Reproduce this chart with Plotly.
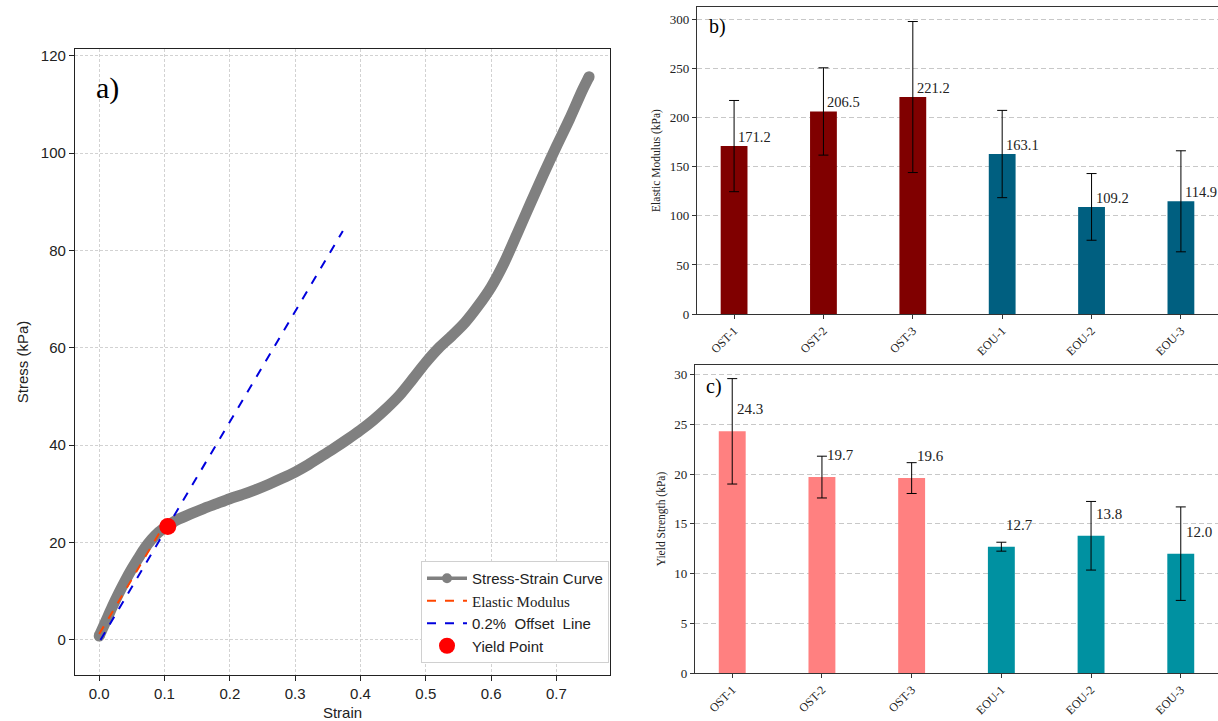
import plotly.graph_objects as go

# ---------------- data ----------------
strain = [0.0, 0.01, 0.02, 0.03, 0.04, 0.05, 0.06, 0.07, 0.08, 0.09, 0.10, 0.11, 0.12,
          0.14, 0.16, 0.18, 0.20, 0.22, 0.24, 0.26, 0.28, 0.30, 0.32, 0.34, 0.36, 0.38,
          0.40, 0.42, 0.44, 0.46, 0.48, 0.50, 0.52, 0.54, 0.56, 0.58, 0.60, 0.62, 0.64,
          0.66, 0.68, 0.70, 0.72, 0.74, 0.75]
stress = [0.8, 3.8, 6.8, 9.6, 12.2, 14.6, 16.8, 18.9, 20.6, 22.0, 23.0, 23.9, 24.7,
          25.9, 27.0, 28.0, 29.0, 29.9, 30.9, 32.0, 33.2, 34.5, 36.0, 37.7, 39.4, 41.2,
          43.1, 45.2, 47.6, 50.3, 53.6, 57.0, 60.0, 62.5, 65.2, 68.6, 72.5, 77.5, 83.5,
          89.6, 95.6, 101.4, 107.0, 113.0, 115.7]
elastic_x = [0.0, 0.095]
elastic_y = [1.2, 22.6]
offset_x = [0.002, 0.373]
offset_y = [0.0, 84.0]
yield_x = [0.105]
yield_y = [23.3]

samples = ["OST-1", "OST-2", "OST-3", "EOU-1", "EOU-2", "EOU-3"]
modulus = [171.2, 206.5, 221.2, 163.1, 109.2, 114.9]
modulus_err = [46.5, 44.5, 77.0, 44.5, 34.0, 51.5]
strength = [24.3, 19.7, 19.6, 12.7, 13.8, 12.0]
strength_err = [5.3, 2.1, 1.55, 0.45, 3.45, 4.7]

# ---------------- styles ----------------
SANS = "Liberation Sans, Arial, sans-serif"
SERIF = "Liberation Serif, Times New Roman, serif"
col_b = ["#800000"] * 3 + ["#005f80"] * 3
col_c = ["#ff8080"] * 3 + ["#0091a1"] * 3

fig = go.Figure()

# panel a
fig.add_trace(go.Scatter(x=strain, y=stress, mode="lines",
                         line=dict(color="#808080", width=11, shape="spline", smoothing=0.8),
                         showlegend=False, xaxis="x", yaxis="y"))
fig.add_trace(go.Scatter(x=[strain[0], strain[-1]], y=[stress[0], stress[-1]], mode="markers",
                         marker=dict(color="#808080", size=11),
                         showlegend=False, xaxis="x", yaxis="y"))
fig.add_trace(go.Scatter(x=[None], y=[None], mode="lines+markers",
                         line=dict(color="#808080", width=3.5),
                         marker=dict(color="#808080", size=10),
                         name="Stress-Strain Curve", xaxis="x", yaxis="y"))
fig.add_trace(go.Scatter(x=elastic_x, y=elastic_y, mode="lines",
                         line=dict(color="#ff4500", width=2, dash="dash"),
                         name="<span style='font-family:Liberation Serif'>Elastic Modulus</span>",
                         xaxis="x", yaxis="y"))
fig.add_trace(go.Scatter(x=offset_x, y=offset_y, mode="lines",
                         line=dict(color="#0000dd", width=2, dash="dash"),
                         name="0.2%  Offset  Line", xaxis="x", yaxis="y"))
fig.add_trace(go.Scatter(x=yield_x, y=yield_y, mode="markers",
                         marker=dict(color="#ff0000", size=17),
                         name="Yield Point", xaxis="x", yaxis="y"))

# panel b
fig.add_trace(go.Bar(x=samples, y=modulus, width=0.3, marker=dict(color=col_b, line=dict(width=0)),
                     error_y=dict(type="data", array=modulus_err, color="black", thickness=1, width=5),
                     showlegend=False, xaxis="x2", yaxis="y2"))
# panel c
fig.add_trace(go.Bar(x=samples, y=strength, width=0.3, marker=dict(color=col_c, line=dict(width=0)),
                     error_y=dict(type="data", array=strength_err, color="black", thickness=1, width=5),
                     showlegend=False, xaxis="x3", yaxis="y3"))

annotations = []
for s, v in zip(samples, modulus):
    annotations.append(dict(x=s, y=v, xref="x2", yref="y2", text=f"{v:.1f}", showarrow=False,
                            xanchor="left", yanchor="middle", xshift=2, yshift=9,
                            font=dict(family=SERIF, size=14.5, color="#222")))
for s, v in zip(samples, strength):
    annotations.append(dict(x=s, y=v, xref="x3", yref="y3", text=f"{v:.1f}", showarrow=False,
                            xanchor="left", yanchor="middle", xshift=3, yshift=22,
                            font=dict(family=SERIF, size=15, color="#222")))
annotations += [
    dict(x=94 / 1218, y=1 - 88 / 721, xref="paper", yref="paper", text="a)", showarrow=False,
         xanchor="left", yanchor="middle", font=dict(family=SERIF, size=30, color="black")),
    dict(x=707 / 1218, y=1 - 27 / 721, xref="paper", yref="paper", text="b)", showarrow=False,
         xanchor="left", yanchor="middle", font=dict(family=SERIF, size=20, color="black")),
    dict(x=704 / 1218, y=1 - 386 / 721, xref="paper", yref="paper", text="c)", showarrow=False,
         xanchor="left", yanchor="middle", font=dict(family=SERIF, size=20, color="black")),
]

axis_a = dict(showline=True, linecolor="#222", linewidth=1.2, mirror=True,
              ticks="outside", ticklen=5, tickcolor="#222",
              showgrid=True, gridcolor="#d2d2d2", gridwidth=0.8, griddash="3px,2px",
              zeroline=False, tickfont=dict(family=SANS, size=15, color="#222"),
              automargin=False)
axis_bc = dict(showline=True, linecolor="#333", linewidth=1.2, mirror=True,
               ticks="outside", ticklen=4, tickcolor="#333", zeroline=False,
               tickfont=dict(family=SERIF, size=13, color="#222"), automargin=False)

fig.update_layout(
    width=1218, height=721,
    margin=dict(l=0, r=0, t=0, b=0),
    paper_bgcolor="white", plot_bgcolor="white",
    showlegend=True,
    legend=dict(x=609 / 1218, y=1 - 663 / 721, xanchor="right", yanchor="bottom",
                bgcolor="white", bordercolor="#d0d0d0", borderwidth=1,
                font=dict(family=SANS, size=15, color="#222"), tracegroupgap=2,
                itemwidth=40),
    xaxis=dict(axis_a, domain=[75 / 1218, 610 / 1218], range=[-0.037, 0.782],
               tickvals=[0, 0.1, 0.2, 0.3, 0.4, 0.5, 0.6, 0.7],
               ticktext=["0.0", "0.1", "0.2", "0.3", "0.4", "0.5", "0.6", "0.7"],
               title=dict(text="Strain", font=dict(family=SANS, size=15, color="#222"), standoff=8),
               anchor="y"),
    yaxis=dict(axis_a, domain=[1 - 675 / 721, 1 - 49 / 721], range=[-7.2, 121.4],
               tickvals=[0, 20, 40, 60, 80, 100, 120],
               title=dict(text="Stress (kPa)", font=dict(family=SANS, size=15, color="#222"), standoff=8),
               anchor="x"),
    xaxis2=dict(axis_bc, domain=[697 / 1218, 1.0], range=[-0.415, 5.415], type="category",
                tickangle=-45, showgrid=False, anchor="y2",
                tickfont=dict(family=SERIF, size=12, color="#222")),
    yaxis2=dict(axis_bc, domain=[1 - 314 / 721, 1 - 7 / 721], range=[0, 313],
                tickvals=[0, 50, 100, 150, 200, 250, 300],
                showgrid=True, gridcolor="#c8c8c8", gridwidth=1, griddash="5px,3px",
                title=dict(text="Elastic Modulus (kPa)", font=dict(family=SERIF, size=11.5, color="#222"),
                           standoff=6),
                anchor="x2"),
    xaxis3=dict(axis_bc, domain=[695 / 1218, 1.0], range=[-0.415, 5.415], type="category",
                tickangle=-45, showgrid=False, anchor="y3",
                tickfont=dict(family=SERIF, size=12, color="#222")),
    yaxis3=dict(axis_bc, domain=[1 - 673 / 721, 1 - 365 / 721], range=[0, 30.97],
                tickvals=[0, 5, 10, 15, 20, 25, 30],
                showgrid=True, gridcolor="#c8c8c8", gridwidth=1, griddash="5px,3px",
                title=dict(text="Yield Strength (kPa)", font=dict(family=SERIF, size=11.5, color="#222"),
                           standoff=6),
                anchor="x3"),
    annotations=annotations,
)

fig.write_html("out.html", config={"displayModeBar": False},
               post_script="document.body.style.margin='0px';document.body.style.overflow='hidden';")
